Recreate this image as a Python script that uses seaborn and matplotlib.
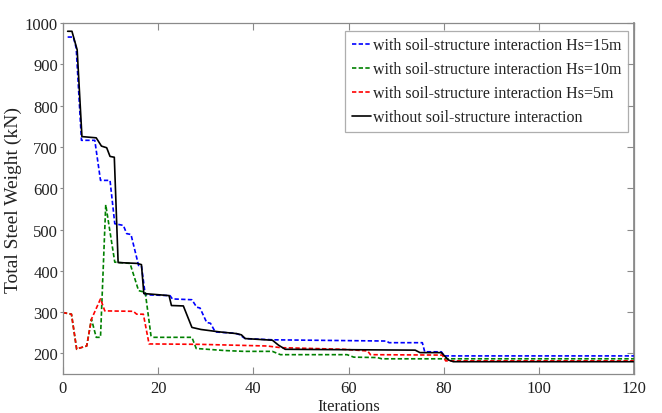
import matplotlib
matplotlib.use("Agg")
import matplotlib.pyplot as plt
import seaborn as sns
import pandas as pd

# Convergence histories (iteration, total steel weight in kN), breakpoints of each curve
hs15_iter = [1, 2.2, 2.8, 3.9, 6.7, 7.9, 9.9, 10.9, 12.7, 13.4, 14.3, 15.9, 16.5, 17.3, 22.5, 23, 27.1,
             28.1, 28.8, 30.2, 31, 32, 36, 37, 38.3, 44, 68, 68.5, 75.5, 76, 79.5, 80.1, 120]
hs15_weight = [966, 966, 939, 716, 716, 619, 619, 514, 510, 490, 488, 413, 412, 342, 340, 332, 330,
               312, 310, 275, 273, 252, 249, 246, 236, 233, 230, 226, 226, 204, 204, 194, 194]

hs10_iter = [0, 1.8, 2.9, 3.2, 5, 6, 7, 7.9, 9.0, 10.9, 14.1, 15.9, 17.3, 18.5, 19, 27.1, 28,
             34, 38, 44, 45.7, 59.7, 61.1, 66, 67, 120]
hs10_weight = [299, 295, 210, 212, 218, 283, 239, 239, 560, 421, 418, 352, 348, 243, 239, 239, 212,
               207, 205, 205, 197, 197, 191, 190, 187, 187]

hs5_iter = [0, 1.8, 2.9, 3.2, 5, 6, 7.9, 8.8, 14.8, 15.5, 16.9, 18.1, 28.8, 42.9, 45.7, 59, 64,
            64.6, 79.7, 80.4, 120]
hs5_weight = [299, 295, 210, 212, 218, 283, 332, 303, 302, 295, 295, 223, 222, 218, 214, 210, 206,
              197, 196, 182, 182]

nossi_iter = [1, 1.9, 3.0, 4.0, 7, 8.1, 9.2, 9.9, 10.8, 11.6, 15.6, 16.5, 17, 22.3, 22.8, 25.3, 27.1,
              29, 33, 36.5, 37.5, 38.3, 44, 45.3, 46.7, 74, 75, 79.5, 81, 82, 120]
nossi_weight = [980, 980, 935, 725, 722, 702, 698, 677, 675, 420, 418, 415, 345, 340, 316, 315, 263,
                258, 252, 248, 245, 236, 232, 220, 210, 208, 202, 202, 184, 180, 180]

labels = ["with soil-structure interaction Hs=15m",
          "with soil-structure interaction Hs=10m",
          "with soil-structure interaction Hs=5m",
          "without soil-structure interaction"]
colors = ["#0000ff", "#008000", "#ff0000", "#000000"]
styles = [(0, (2.6, 1.4)), (0, (2.6, 1.4)), (0, (2.6, 1.4)), "-"]

series = [(hs15_iter, hs15_weight), (hs10_iter, hs10_weight),
          (hs5_iter, hs5_weight), (nossi_iter, nossi_weight)]

sns.set_theme(style="white")
plt.rcParams["font.family"] = ["Liberation Serif", "DejaVu Serif"]

fig, ax = plt.subplots(figsize=(6.62, 4.14), dpi=100)
fig.subplots_adjust(left=0.095, right=0.958, top=0.942, bottom=0.094)

for (xs, ys), lab, col, ls in zip(series, labels, colors, styles):
    df = pd.DataFrame({"Iterations": xs, "Weight": ys})
    sns.lineplot(data=df, x="Iterations", y="Weight", ax=ax, color=col,
                 linestyle=ls, linewidth=1.2, label=lab, estimator=None, sort=False)

ax.set_xlim(0, 120)
ax.set_ylim(150, 1000)
ax.set_xticks([0, 20, 40, 60, 80, 100, 120])
ax.set_yticks([200, 300, 400, 500, 600, 700, 800, 900, 1000])
ax.set_xlabel("Iterations", fontsize=12, color="#222222", labelpad=2)
ax.set_ylabel("Total Steel Weight (kN)", fontsize=14, color="#222222", labelpad=2)

for s in ax.spines.values():
    s.set_color("#8a8a8a")
    s.set_linewidth(0.9)

ax.tick_params(axis="both", labelsize=12, colors="#222222")
ax.tick_params(axis="x", direction="in", length=5, width=0.8, color="#8a8a8a",
               top=True, bottom=True, pad=4)
ax.tick_params(axis="y", which="both", left=True, right=False, direction="out",
               length=2.5, width=0.8, color="#8a8a8a", pad=1)
ax2 = ax.secondary_yaxis("right")
ax2.set_yticks([200, 300, 400, 500, 600, 700, 800, 900, 1000])
ax2.tick_params(direction="in", length=5, width=0.8, color="#8a8a8a", labelright=False)
ax2.spines["right"].set_color("#8a8a8a")

leg = ax.legend(loc="upper right", bbox_to_anchor=(628 / 662, 1 - 32 / 414),
                bbox_transform=fig.transFigure, fontsize=11.5, frameon=True, fancybox=False,
                handlelength=1.2, handletextpad=0.15, labelspacing=0.5,
                borderpad=0.4, borderaxespad=0)
leg.get_frame().set_edgecolor("#9a9a9a")
leg.get_frame().set_linewidth(0.9)
for t in leg.get_texts():
    t.set_color("#222222")

fig.savefig("out.png", dpi=100)
